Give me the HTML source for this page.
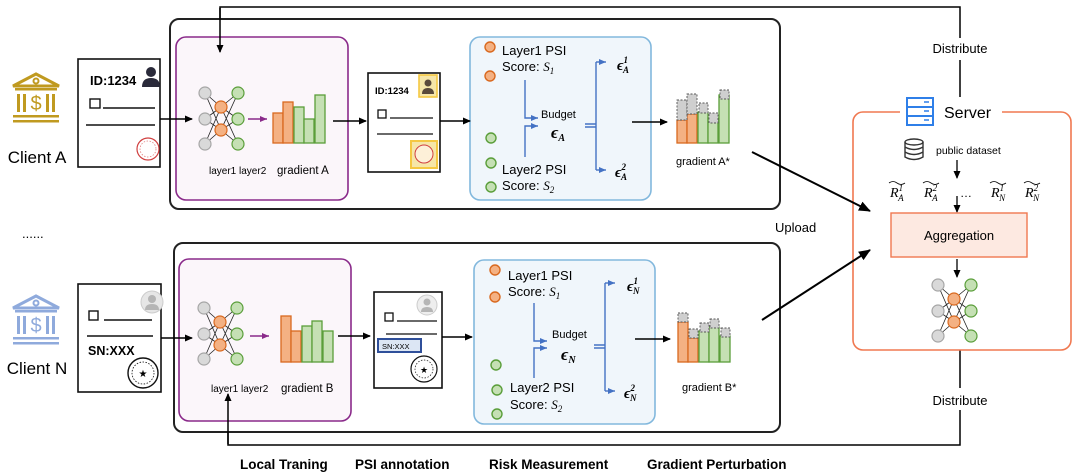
<!DOCTYPE html>
<html><head><meta charset="utf-8"><style>
html,body{margin:0;padding:0;background:#fff;}
svg{display:block;font-family:"Liberation Sans",Arial,sans-serif;}
.m{font-family:"Liberation Serif",serif;font-style:italic;}
</style></head><body>
<svg width="1079" height="475" viewBox="0 0 1079 475" xmlns="http://www.w3.org/2000/svg">
<defs>
<marker id="ak" markerWidth="8" markerHeight="8" refX="7" refY="4" orient="auto" markerUnits="userSpaceOnUse"><path d="M0,0.5 L8,4 L0,7.5z" fill="#000"/></marker>
<marker id="ak2" markerWidth="12" markerHeight="12" refX="11" refY="6" orient="auto" markerUnits="userSpaceOnUse"><path d="M0,1 L12,6 L0,11z" fill="#000"/></marker>
<marker id="ap" markerWidth="8" markerHeight="8" refX="7" refY="4" orient="auto" markerUnits="userSpaceOnUse"><path d="M0,1 L7,4 L0,7z" fill="#8a2a8a"/></marker>
<marker id="ab" markerWidth="8" markerHeight="8" refX="7" refY="4" orient="auto" markerUnits="userSpaceOnUse"><path d="M0,1 L7,4 L0,7z" fill="#4472c4"/></marker>
<g id="nn" stroke="#222" stroke-width="0.8">
<path d="M0,0 L16,14 M0,0 L16,37 M0,26 L16,14 M0,26 L16,37 M0,51 L16,14 M0,51 L16,37 M16,14 L33,0 M16,14 L33,26 M16,14 L33,51 M16,37 L33,0 M16,37 L33,26 M16,37 L33,51" fill="none"/>
<g stroke-width="1.2">
<circle cx="0" cy="0" r="6" fill="#d9d9d9" stroke="#a6a6a6"/><circle cx="0" cy="26" r="6" fill="#d9d9d9" stroke="#a6a6a6"/><circle cx="0" cy="51" r="6" fill="#d9d9d9" stroke="#a6a6a6"/>
<circle cx="16" cy="14" r="6" fill="#f4b183" stroke="#d9691f"/><circle cx="16" cy="37" r="6" fill="#f4b183" stroke="#d9691f"/>
<circle cx="33" cy="0" r="6" fill="#c5e0b4" stroke="#5a9e3a"/><circle cx="33" cy="26" r="6" fill="#c5e0b4" stroke="#5a9e3a"/><circle cx="33" cy="51" r="6" fill="#c5e0b4" stroke="#5a9e3a"/>
</g></g>
<g id="bank">
<path d="M0,16 L23,4 L46,16 Z" fill="none" stroke-width="3"/>
<circle cx="23" cy="11" r="2.5" fill="none" stroke-width="2"/>
<rect x="2" y="18" width="42" height="2.5" stroke="none"/>
<rect x="4" y="24" width="3" height="18" stroke="none"/><rect x="10" y="24" width="3" height="18" stroke="none"/>
<rect x="33" y="24" width="3" height="18" stroke="none"/><rect x="39" y="24" width="3" height="18" stroke="none"/>
<text x="23" y="40" font-size="20" text-anchor="middle" stroke="none">$</text>
<rect x="0" y="45" width="46" height="2.5" stroke="none"/><rect x="0" y="50" width="46" height="2.5" stroke="none"/>
</g>
</defs>

<!-- distribute lines -->
<path d="M220,51 L220,7 L960,7 L960,38" fill="none" stroke="#000" stroke-width="1.5"/>
<line x1="960" y1="60" x2="960" y2="100" stroke="#000" stroke-width="1.5"/>
<text x="960" y="53" font-size="13" text-anchor="middle">Distribute</text>
<path d="M960,350 L960,388" stroke="#000" stroke-width="1.5"/>
<path d="M960,410 L960,445 L228,445 L228,392" fill="none" stroke="#000" stroke-width="1.5"/>
<text x="960" y="405" font-size="13" text-anchor="middle">Distribute</text>

<!-- outer boxes -->
<rect x="170" y="19" width="610" height="190" rx="9" fill="#fff" stroke="#222" stroke-width="2"/>
<rect x="174" y="243" width="606" height="189" rx="9" fill="#fff" stroke="#222" stroke-width="2"/>

<!-- purple boxes -->
<rect x="176" y="37" width="172" height="163" rx="10" fill="#fbf6fa" stroke="#8a2a8a" stroke-width="1.6"/>
<rect x="179" y="259" width="172" height="162" rx="10" fill="#fbf6fa" stroke="#8a2a8a" stroke-width="1.6"/>
<!-- blue boxes -->
<rect x="470" y="37" width="181" height="163" rx="10" fill="#f0f6fb" stroke="#82b8dd" stroke-width="1.6"/>
<rect x="474" y="260" width="181" height="164" rx="10" fill="#f0f6fb" stroke="#82b8dd" stroke-width="1.6"/>

<line x1="220" y1="8" x2="220" y2="52" stroke="#000" stroke-width="1.5" marker-end="url(#ak)"/>
<line x1="228" y1="444" x2="228" y2="394" stroke="#000" stroke-width="1.5" marker-end="url(#ak)"/>

<!-- Client A -->
<g fill="#c09a20" stroke="#c09a20"><use href="#bank" x="13" y="70"/></g>
<text x="37" y="163" font-size="17" text-anchor="middle">Client A</text>
<rect x="78" y="59" width="82" height="108" fill="#fff" stroke="#111" stroke-width="1.6"/>
<text x="90" y="85" font-size="13" font-weight="bold">ID:1234</text>
<circle cx="151" cy="72" r="5" fill="#2a2a3a"/><path d="M142,87 Q142,78 151,78 Q160,78 160,87z" fill="#2a2a3a"/>
<rect x="90" y="99" width="10" height="9" fill="none" stroke="#111" stroke-width="1.4"/>
<line x1="103" y1="108" x2="155" y2="108" stroke="#111" stroke-width="1.4"/>
<line x1="86" y1="125" x2="155" y2="125" stroke="#111" stroke-width="1.4"/>
<circle cx="148" cy="149" r="11" fill="none" stroke="#d04040" stroke-width="1.2"/><circle cx="148" cy="149" r="8" fill="none" stroke="#e08080" stroke-width="0.8" stroke-dasharray="1.5,1.5"/>
<line x1="160" y1="119" x2="192" y2="119" stroke="#000" stroke-width="1.6" marker-end="url(#ak)"/>

<!-- top NN -->
<use href="#nn" x="205" y="93"/>
<line x1="248" y1="119" x2="267" y2="119" stroke="#8a2a8a" stroke-width="1.5" marker-end="url(#ap)"/>
<g stroke-width="1.3">
<rect x="273" y="113" width="10" height="30" fill="#f4b183" stroke="#d9691f"/>
<rect x="283" y="102" width="10" height="41" fill="#f4b183" stroke="#d9691f"/>
<rect x="294" y="107" width="10" height="36" fill="#c5e0b4" stroke="#5a9e3a"/>
<rect x="304" y="119" width="10" height="24" fill="#c5e0b4" stroke="#5a9e3a"/>
<rect x="315" y="95" width="10" height="48" fill="#c5e0b4" stroke="#5a9e3a"/>
</g>
<text x="209" y="174" font-size="10">layer1 layer2</text>
<text x="277" y="174" font-size="11.5">gradient A</text>
<line x1="333" y1="121" x2="366" y2="121" stroke="#000" stroke-width="1.4" marker-end="url(#ak)"/>

<!-- doc2 top -->
<rect x="368" y="73" width="72" height="99" fill="#fff" stroke="#111" stroke-width="1.6"/>
<text x="375" y="94" font-size="9.5" font-weight="bold">ID:1234</text>
<rect x="419" y="75" width="18" height="22" fill="#f6e6a8" stroke="#f5c842" stroke-width="1.6"/>
<circle cx="428" cy="83" r="3.5" fill="#5a4a3a"/><path d="M422,94 Q422,88 428,88 Q434,88 434,94z" fill="#5a4a3a"/>
<rect x="378" y="110" width="8" height="8" fill="none" stroke="#111" stroke-width="1.3"/>
<line x1="390" y1="118" x2="433" y2="118" stroke="#111" stroke-width="1.3"/>
<line x1="377" y1="134" x2="433" y2="134" stroke="#111" stroke-width="1.3"/>
<rect x="411" y="141" width="26" height="27" fill="#f6e6a8" stroke="#f5c842" stroke-width="2"/>
<circle cx="424" cy="154" r="9" fill="#fdf0d8" stroke="#d04040" stroke-width="1"/>
<line x1="440" y1="121" x2="470" y2="121" stroke="#000" stroke-width="1.4" marker-end="url(#ak)"/>

<!-- blue top -->
<g stroke-width="1.4">
<circle cx="490" cy="47" r="5" fill="#f4b183" stroke="#d9691f"/><circle cx="490" cy="76" r="5" fill="#f4b183" stroke="#d9691f"/>
<circle cx="491" cy="138" r="5" fill="#c5e0b4" stroke="#5a9e3a"/><circle cx="491" cy="163" r="5" fill="#c5e0b4" stroke="#5a9e3a"/><circle cx="491" cy="187" r="5" fill="#c5e0b4" stroke="#5a9e3a"/>
</g>
<text x="502" y="55" font-size="13">Layer1 PSI</text>
<text x="502" y="71" font-size="13">Score: <tspan class="m">S</tspan><tspan font-size="9" class="m" dy="3">1</tspan></text>
<text x="502" y="174" font-size="13">Layer2 PSI</text>
<text x="502" y="190" font-size="13">Score: <tspan class="m">S</tspan><tspan font-size="9" class="m" dy="3">2</tspan></text>
<path d="M525,80 L525,118 L538,118" fill="none" stroke="#4472c4" stroke-width="1.4" marker-end="url(#ab)"/>
<path d="M525,157 L525,126 L538,126" fill="none" stroke="#4472c4" stroke-width="1.4" marker-end="url(#ab)"/>
<text x="541" y="118" font-size="11">Budget</text>
<text x="551" y="138" font-size="17" font-weight="bold" class="m">ϵ<tspan font-size="10" dy="3">A</tspan></text>
<path d="M585,124 L596,124 M585,127 L596,127 M596,62 L596,170" stroke="#4472c4" stroke-width="1.4" fill="none"/>
<line x1="596" y1="62" x2="606" y2="62" stroke="#4472c4" stroke-width="1.4" marker-end="url(#ab)"/>
<line x1="596" y1="170" x2="606" y2="170" stroke="#4472c4" stroke-width="1.4" marker-end="url(#ab)"/>
<text x="617" y="70" font-size="15" font-weight="bold" class="m">ϵ<tspan font-size="9" dy="-7">1</tspan><tspan font-size="9" dx="-5" dy="10">A</tspan></text>
<text x="615" y="177" font-size="15" font-weight="bold" class="m">ϵ<tspan font-size="9" dy="-7">2</tspan><tspan font-size="9" dx="-5" dy="10">A</tspan></text>
<line x1="632" y1="122" x2="667" y2="122" stroke="#000" stroke-width="1.4" marker-end="url(#ak)"/>

<!-- gradient A* -->
<g stroke-width="1.3">
<rect x="677" y="120" width="10" height="23" fill="#f4b183" stroke="#d9691f"/>
<rect x="687" y="114" width="10" height="29" fill="#f4b183" stroke="#d9691f"/>
<rect x="698" y="112" width="10" height="31" fill="#c5e0b4" stroke="#5a9e3a"/>
<rect x="708" y="118" width="10" height="25" fill="#c5e0b4" stroke="#5a9e3a"/>
<rect x="719" y="95" width="10" height="48" fill="#c5e0b4" stroke="#5a9e3a"/>
</g>
<g fill="#cfcfcf" stroke="#555" stroke-width="0.9" stroke-dasharray="2,1.5">
<rect x="677" y="100" width="10" height="20"/><rect x="687" y="94" width="10" height="20"/>
<rect x="699" y="103" width="9" height="10"/><rect x="709" y="113" width="9" height="10"/><rect x="720" y="90" width="9" height="9"/>
</g>
<text x="676" y="165" font-size="11">gradient A*</text>

<text x="775" y="232" font-size="13">Upload</text>
<text x="22" y="238" font-size="13">......</text>

<!-- Server -->
<rect x="853" y="112" width="218" height="238" rx="10" fill="#fff" stroke="#f07850" stroke-width="1.6"/>
<rect x="900" y="97" width="102" height="28" fill="#fff"/>
<g fill="#fff" stroke="#2f7fe8" stroke-width="2"><rect x="907" y="98" width="26" height="9"/><rect x="907" y="107" width="26" height="9"/><rect x="907" y="116" width="26" height="9"/></g>
<g stroke="#2f7fe8" stroke-width="1.5"><line x1="924" y1="102" x2="929" y2="102"/><line x1="924" y1="111" x2="929" y2="111"/><line x1="924" y1="120" x2="929" y2="120"/></g>
<text x="944" y="118" font-size="16">Server</text>
<g fill="none" stroke="#333" stroke-width="1.4"><ellipse cx="914" cy="142" rx="9" ry="3"/><path d="M905,142 L905,157 Q914,162 923,157 L923,142 M905,147 Q914,152 923,147 M905,152 Q914,157 923,152"/></g>
<text x="936" y="154" font-size="10.5">public dataset</text>
<line x1="957" y1="160" x2="957" y2="178" stroke="#000" stroke-width="1.3" marker-end="url(#ak)"/>
<g font-size="14" class="m">
<text x="890" y="197">R<tspan font-size="9" dy="-6">1</tspan><tspan font-size="9" dx="-5" dy="10">A</tspan></text>
<text x="924" y="197">R<tspan font-size="9" dy="-6">2</tspan><tspan font-size="9" dx="-5" dy="10">A</tspan></text>
<text x="991" y="197">R<tspan font-size="9" dy="-6">1</tspan><tspan font-size="9" dx="-5" dy="10">N</tspan></text>
<text x="1025" y="197">R<tspan font-size="9" dy="-6">2</tspan><tspan font-size="9" dx="-5" dy="10">N</tspan></text>
</g>
<g stroke="#000" stroke-width="0.8" fill="none"><path d="M889,183 q4,-3 8,0 t8,0"/><path d="M923,183 q4,-3 8,0 t8,0"/><path d="M990,183 q4,-3 8,0 t8,0"/><path d="M1024,183 q4,-3 8,0 t8,0"/></g>
<text x="960" y="197" font-size="12">…</text>
<line x1="957" y1="196" x2="957" y2="212" stroke="#000" stroke-width="1.3" marker-end="url(#ak)"/>
<rect x="891" y="213" width="136" height="44" fill="#fde9e1" stroke="#f07850" stroke-width="1.4"/>
<text x="959" y="240" font-size="13" text-anchor="middle">Aggregation</text>
<line x1="957" y1="259" x2="957" y2="277" stroke="#000" stroke-width="1.3" marker-end="url(#ak)"/>
<use href="#nn" x="938" y="285"/>

<!-- upload arrows -->
<line x1="752" y1="152" x2="870" y2="211" stroke="#000" stroke-width="2" marker-end="url(#ak2)"/>
<line x1="762" y1="320" x2="870" y2="250" stroke="#000" stroke-width="2" marker-end="url(#ak2)"/>

<!-- Client N -->
<g fill="#8faadc" stroke="#8faadc"><use href="#bank" x="13" y="292"/></g>
<text x="37" y="374" font-size="17" text-anchor="middle">Client N</text>
<rect x="78" y="284" width="83" height="108" fill="#fff" stroke="#111" stroke-width="1.6"/>
<circle cx="152" cy="302" r="11" fill="#e6e6e6" stroke="#ccc"/><circle cx="152" cy="299" r="4" fill="#b5b5b5"/><path d="M145,310 Q145,304 152,304 Q159,304 159,310z" fill="#b5b5b5"/>
<rect x="89" y="311" width="9" height="9" fill="none" stroke="#111" stroke-width="1.4"/>
<line x1="104" y1="320" x2="152" y2="320" stroke="#111" stroke-width="1.4"/>
<line x1="87" y1="336" x2="153" y2="336" stroke="#111" stroke-width="1.4"/>
<text x="88" y="355" font-size="12.5" font-weight="bold">SN:XXX</text>
<circle cx="143" cy="373" r="15" fill="#fff" stroke="#111" stroke-width="1.4"/><circle cx="143" cy="373" r="11" fill="none" stroke="#111" stroke-width="0.8" stroke-dasharray="1.5,1.5"/>
<text x="143" y="377" font-size="10" text-anchor="middle">★</text>
<line x1="161" y1="338" x2="192" y2="338" stroke="#000" stroke-width="1.6" marker-end="url(#ak)"/>

<use href="#nn" x="204" y="308"/>
<line x1="250" y1="336" x2="269" y2="336" stroke="#8a2a8a" stroke-width="1.5" marker-end="url(#ap)"/>
<g stroke-width="1.3">
<rect x="281" y="316" width="10" height="46" fill="#f4b183" stroke="#d9691f"/>
<rect x="291" y="331" width="10" height="31" fill="#f4b183" stroke="#d9691f"/>
<rect x="302" y="326" width="10" height="36" fill="#c5e0b4" stroke="#5a9e3a"/>
<rect x="312" y="321" width="10" height="41" fill="#c5e0b4" stroke="#5a9e3a"/>
<rect x="323" y="331" width="10" height="31" fill="#c5e0b4" stroke="#5a9e3a"/>
</g>
<text x="211" y="392" font-size="10">layer1 layer2</text>
<text x="281" y="392" font-size="11.5">gradient B</text>
<line x1="338" y1="336" x2="370" y2="336" stroke="#000" stroke-width="1.4" marker-end="url(#ak)"/>

<rect x="374" y="292" width="68" height="96" fill="#fff" stroke="#111" stroke-width="1.6"/>
<circle cx="427" cy="305" r="10" fill="#eee" stroke="#ccc"/><circle cx="427" cy="302" r="3.5" fill="#b5b5b5"/><path d="M421,312 Q421,307 427,307 Q433,307 433,312z" fill="#b5b5b5"/>
<rect x="385" y="313" width="8" height="8" fill="none" stroke="#111" stroke-width="1.3"/>
<line x1="397" y1="321" x2="437" y2="321" stroke="#111" stroke-width="1.3"/>
<line x1="386" y1="334" x2="437" y2="334" stroke="#111" stroke-width="1.3"/>
<rect x="378" y="339" width="43" height="13" fill="#dce6f4" stroke="#2f4f9a" stroke-width="2"/>
<text x="382" y="349" font-size="7.5">SN:XXX</text>
<circle cx="424" cy="369" r="13" fill="#fff" stroke="#111" stroke-width="1.2"/><circle cx="424" cy="369" r="9" fill="none" stroke="#111" stroke-width="0.7" stroke-dasharray="1.5,1.5"/>
<text x="424" y="373" font-size="9" text-anchor="middle">★</text>
<line x1="442" y1="337" x2="472" y2="337" stroke="#000" stroke-width="1.4" marker-end="url(#ak)"/>

<!-- blue bottom -->
<g stroke-width="1.4">
<circle cx="495" cy="270" r="5" fill="#f4b183" stroke="#d9691f"/><circle cx="495" cy="297" r="5" fill="#f4b183" stroke="#d9691f"/>
<circle cx="496" cy="365" r="5" fill="#c5e0b4" stroke="#5a9e3a"/><circle cx="497" cy="390" r="5" fill="#c5e0b4" stroke="#5a9e3a"/><circle cx="497" cy="414" r="5" fill="#c5e0b4" stroke="#5a9e3a"/>
</g>
<text x="508" y="280" font-size="13">Layer1 PSI</text>
<text x="508" y="296" font-size="13">Score: <tspan class="m">S</tspan><tspan font-size="9" class="m" dy="3">1</tspan></text>
<text x="510" y="392" font-size="13">Layer2 PSI</text>
<text x="510" y="409" font-size="13">Score: <tspan class="m">S</tspan><tspan font-size="9" class="m" dy="3">2</tspan></text>
<path d="M534,303 L534,341 L547,341" fill="none" stroke="#4472c4" stroke-width="1.4" marker-end="url(#ab)"/>
<path d="M534,378 L534,348 L547,348" fill="none" stroke="#4472c4" stroke-width="1.4" marker-end="url(#ab)"/>
<text x="552" y="338" font-size="11">Budget</text>
<text x="561" y="360" font-size="17" font-weight="bold" class="m">ϵ<tspan font-size="10" dy="3">N</tspan></text>
<path d="M594,345 L605,345 M594,348 L605,348 M605,283 L605,391" stroke="#4472c4" stroke-width="1.4" fill="none"/>
<line x1="605" y1="283" x2="615" y2="283" stroke="#4472c4" stroke-width="1.4" marker-end="url(#ab)"/>
<line x1="605" y1="391" x2="615" y2="391" stroke="#4472c4" stroke-width="1.4" marker-end="url(#ab)"/>
<text x="627" y="291" font-size="15" font-weight="bold" class="m">ϵ<tspan font-size="9" dy="-7">1</tspan><tspan font-size="9" dx="-5" dy="10">N</tspan></text>
<text x="624" y="398" font-size="15" font-weight="bold" class="m">ϵ<tspan font-size="9" dy="-7">2</tspan><tspan font-size="9" dx="-5" dy="10">N</tspan></text>
<line x1="635" y1="339" x2="670" y2="339" stroke="#000" stroke-width="1.4" marker-end="url(#ak)"/>

<g stroke-width="1.3">
<rect x="678" y="322" width="10" height="40" fill="#f4b183" stroke="#d9691f"/>
<rect x="688" y="338" width="10" height="24" fill="#f4b183" stroke="#d9691f"/>
<rect x="699" y="331" width="10" height="31" fill="#c5e0b4" stroke="#5a9e3a"/>
<rect x="709" y="327" width="10" height="35" fill="#c5e0b4" stroke="#5a9e3a"/>
<rect x="720" y="336" width="10" height="26" fill="#c5e0b4" stroke="#5a9e3a"/>
</g>
<g fill="#cfcfcf" stroke="#555" stroke-width="0.9" stroke-dasharray="2,1.5">
<rect x="678" y="313" width="10" height="9"/><rect x="689" y="329" width="9" height="9"/>
<rect x="700" y="323" width="9" height="9"/><rect x="710" y="319" width="9" height="9"/><rect x="721" y="328" width="9" height="9"/>
</g>
<text x="682" y="391" font-size="11">gradient B*</text>

<!-- bottom labels -->
<g font-size="13.5" font-weight="bold">
<text x="240" y="469">Local Traning</text>
<text x="355" y="469">PSI annotation</text>
<text x="489" y="469">Risk Measurement</text>
<text x="647" y="469">Gradient Perturbation</text>
</g>
</svg>
</body></html>
